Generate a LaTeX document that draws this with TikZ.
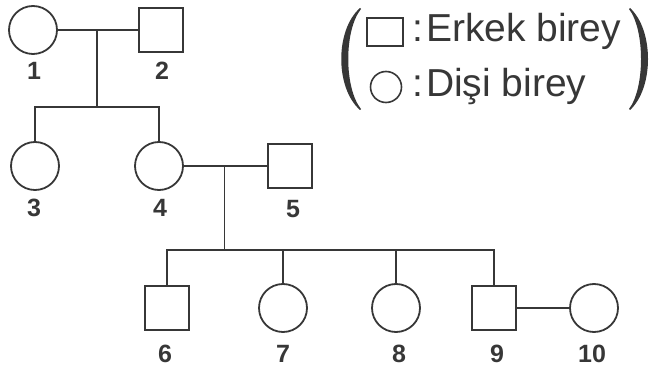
\documentclass[tikz,border=0pt]{standalone}
\usepackage{fontspec}
\setmainfont{Liberation Sans}
\usetikzlibrary{calc}
\definecolor{ink}{RGB}{55,55,55}
\begin{document}
\begin{tikzpicture}[x=1pt,y=-1pt,
  fem/.style={circle, draw=ink, line width=1.8pt, minimum size=48pt, inner sep=0pt},
  mal/.style={rectangle, draw=ink, line width=1.8pt, minimum size=44pt, inner sep=0pt},
  num/.style={font=\bfseries\fontsize{25}{25}\selectfont, text=ink, anchor=base, inner sep=0pt},
  ln/.style={line width=1.8pt, draw=ink},
  leg/.style={font=\fontsize{39}{39}\selectfont, text=ink, anchor=base west, inner sep=0pt}]
\useasboundingbox (0,0) rectangle (650,371);
% generation I
\node[fem] (p1) at (33,30) {};
\node[mal] (p2) at (161,30) {};
% generation II
\node[fem] (p3) at (35,166) {};
\node[fem] (p4) at (159,166) {};
\node[mal] (p5) at (290,166) {};
% generation III
\node[mal] (p6) at (167,308) {};
\node[fem] (p7) at (283,308) {};
\node[fem] (p8) at (396,308) {};
\node[mal] (p9) at (494,308) {};
\node[fem] (p10) at (594,308) {};
% labels
\node[num] (l1) at (34,80) {1};
\node[num] (l2) at (162,80) {2};
\node[num] (l3) at (34,217) {3};
\node[num] (l4) at (160,217) {4};
\node[num] (l5) at (293,218) {5};
\node[num] (l6) at (165,362) {6};
\node[num] (l7) at (283,362) {7};
\node[num] (l8) at (399,362) {8};
\node[num] (l9) at (497,362) {9};
\node[num] (l10) at (592,362) {10};
% connectors
\draw[ln] (p1) -- (p2);
\coordinate (m12) at ($(p1)!0.5!(p2)$);
\coordinate (s12) at (98,107);
\draw[ln] (m12 |- p1) -- (m12 |- s12);
\draw[ln] (p3.north) -- (p3.north |- s12) -- (p4.north |- s12) -- (p4.north);
\draw[ln] (p4) -- (p5);
\coordinate (m45) at ($(p4)!0.5!(p5)$);
\coordinate (s45) at (224,250);
\draw[ln] (m45) -- (m45 |- s45);
\draw[ln] (p6.north) -- (p6.north |- s45) -- (p9.north |- s45) -- (p9.north);
\draw[ln] (p7.north) -- (p7.north |- s45);
\draw[ln] (p8.north) -- (p8.north |- s45);
\draw[ln] (p9) -- (p10);
% legend
\node[rectangle, draw=ink, line width=1.6pt, minimum width=36pt, minimum height=28pt, inner sep=0pt] (lsq) at (385,32) {};
\node[circle, draw=ink, line width=1.6pt, minimum size=31pt, inner sep=0pt] (lci) at (386,87) {};
\node[leg] (t1) at (412,42) {:\hspace{3pt}Erkek birey};
\node[leg] (t2) at (412,97) {:\hspace{3pt}Dişi birey};
% parentheses
\fill[ink] (360,8) .. controls (335,30) and (335,88) .. (360,110)
  -- (361,109) .. controls (344,88) and (344,30) .. (361,9) -- cycle;
\fill[ink] (630,8) .. controls (654,30) and (654,88) .. (630,110)
  -- (629,109) .. controls (645,88) and (645,30) .. (629,9) -- cycle;
\end{tikzpicture}
\end{document}
